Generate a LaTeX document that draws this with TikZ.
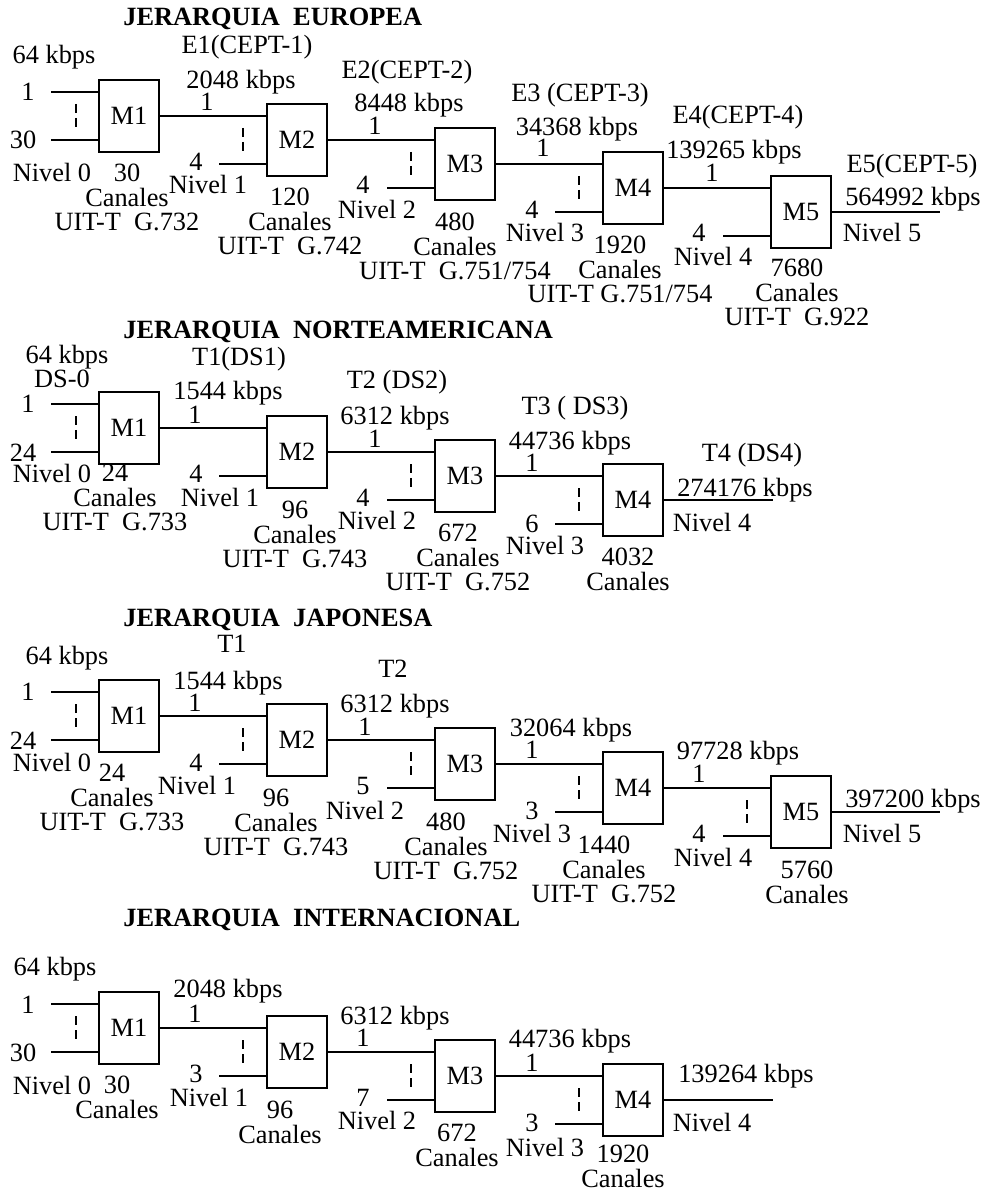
\documentclass[tikz,border=0pt]{standalone}
\usepackage{fontspec}
\setmainfont{Liberation Serif}

\def\txtfont{\fontsize{15pt}{13.9pt}\selectfont}

\begin{document}
\begin{tikzpicture}[x=0.02cm, y=-0.02cm, font=\txtfont,
	mux/.style={draw, line width=1.5pt, minimum width=1.2cm, minimum height=1.44cm, inner sep=0pt},
	wire/.style={line width=1.5pt},
	gap/.style={line width=0.6pt, dash pattern=on 0.18cm off 0.1cm},
	lbl/.style={anchor=base, inner sep=0pt},
	blk/.style={anchor=north, align=center, inner sep=0pt},
	title/.style={anchor=base west, inner sep=0pt, font=\txtfont\bfseries}]

	\useasboundingbox (0,0) rectangle (987,1192);

	% ---------------- europea
	\node[title] (e-tit) at (123,26) {JERARQUIA\ \ EUROPEA};

	\node[mux] (e1) at (129,116) {M1};
	\node[mux] (e2) at (297,140) {M2};
	\node[mux] (e3) at (465,164) {M3};
	\node[mux] (e4) at (633,188) {M4};
	\node[mux] (e5) at (801,212) {M5};

	\coordinate (e1a) at (51,92);
	\coordinate (e1b) at (51,140);
	\coordinate (e2b) at (219,164);
	\coordinate (e3b) at (387,188);
	\coordinate (e4b) at (555,212);
	\coordinate (e5b) at (723,236);
	\coordinate (e-out) at (940,212);

	\draw[wire] (e1a) -- (e1a -| e1.west);
	\draw[wire] (e1b) -- (e1b -| e1.west);
	\draw[wire] (e2b) -- (e2b -| e2.west);
	\draw[wire] (e3b) -- (e3b -| e3.west);
	\draw[wire] (e4b) -- (e4b -| e4.west);
	\draw[wire] (e5b) -- (e5b -| e5.west);
	\draw[wire] (e1) -- (e1 -| e2.west);
	\draw[wire] (e2) -- (e2 -| e3.west);
	\draw[wire] (e3) -- (e3 -| e4.west);
	\draw[wire] (e4) -- (e4 -| e5.west);
	\draw[wire] (e5) -- (e-out);

	\draw[gap] (76,104) -- (76,127);
	\draw[gap] (243,128) -- (243,151);
	\draw[gap] (411,152) -- (411,175);
	\draw[gap] (579,176) -- (579,199);

	\node[lbl] (e-r0) at (54,64) {64 kbps};
	\node[lbl] (e-c1a) at (28,101) {1};
	\node[lbl] (e-c1b) at (23,149) {30};
	\node[lbl] (e-n0) at (52,182) {Nivel 0};
	\node[blk] (e-ch1) at (127,164) {30\\Canales\\UIT-T~~G.732};

	\node[lbl] (e-t1) at (247,54) {E1(CEPT-1)};
	\node[lbl] (e-r1) at (241,89) {2048 kbps};
	\node[lbl] (e-k1) at (207,111) {1};
	\node[lbl] (e-m1) at (196,171) {4};
	\node[lbl] (e-n1) at (208,194) {Nivel 1};
	\node[blk] (e-ch2) at (290,188) {120\\Canales\\UIT-T~~G.742};

	\node[lbl] (e-t2) at (407,79) {E2(CEPT-2)};
	\node[lbl] (e-r2) at (409,112) {8448 kbps};
	\node[lbl] (e-k2) at (375,135) {1};
	\node[lbl] (e-m2) at (363,194) {4};
	\node[lbl] (e-n2) at (377,219) {Nivel 2};
	\node[blk] (e-ch3) at (455,213) {480\\Canales\\UIT-T~~G.751/754};

	\node[lbl] (e-t3) at (580,102) {E3 (CEPT-3)};
	\node[lbl] (e-r3) at (577,136) {34368 kbps};
	\node[lbl] (e-k3) at (543,157) {1};
	\node[lbl] (e-m3) at (532,219) {4};
	\node[lbl] (e-n3) at (545,242) {Nivel 3};
	\node[blk] (e-ch4) at (620,236) {1920\\Canales\\UIT-T G.751/754};

	\node[lbl] (e-t4) at (738,124) {E4(CEPT-4)};
	\node[lbl] (e-r4) at (734,159) {139265 kbps};
	\node[lbl] (e-k4) at (712,182) {1};
	\node[lbl] (e-m4) at (699,242) {4};
	\node[lbl] (e-n4) at (713,266) {Nivel 4};
	\node[blk] (e-ch5) at (797,259) {7680\\Canales\\UIT-T~~G.922};

	\node[lbl] (e-t5) at (912,173) {E5(CEPT-5)};
	\node[lbl] (e-r5) at (913,206) {564992 kbps};
	\node[lbl] (e-n5) at (882,242) {Nivel 5};

	% ---------------- norteamericana
	\node[title] (n-tit) at (123,339) {JERARQUIA\ \ NORTEAMERICANA};

	\node[mux] (n1) at (129,428) {M1};
	\node[mux] (n2) at (297,452) {M2};
	\node[mux] (n3) at (465,476) {M3};
	\node[mux] (n4) at (633,500) {M4};

	\coordinate (n1a) at (51,404);
	\coordinate (n1b) at (51,452);
	\coordinate (n2b) at (219,476);
	\coordinate (n3b) at (387,500);
	\coordinate (n4b) at (555,524);
	\coordinate (n-out) at (773,500);

	\draw[wire] (n1a) -- (n1a -| n1.west);
	\draw[wire] (n1b) -- (n1b -| n1.west);
	\draw[wire] (n2b) -- (n2b -| n2.west);
	\draw[wire] (n3b) -- (n3b -| n3.west);
	\draw[wire] (n4b) -- (n4b -| n4.west);
	\draw[wire] (n1) -- (n1 -| n2.west);
	\draw[wire] (n2) -- (n2 -| n3.west);
	\draw[wire] (n3) -- (n3 -| n4.west);
	\draw[wire] (n4) -- (n-out);

	\draw[gap] (76,416) -- (76,439);
	\draw[gap] (411,464) -- (411,487);
	\draw[gap] (579,488) -- (579,511);

	\node[lbl] (n-r0) at (67,364) {64 kbps};
	\node[lbl] (n-ds0) at (62,387) {DS-0};
	\node[lbl] (n-c1a) at (28,412) {1};
	\node[lbl] (n-c1b) at (23,461) {24};
	\node[lbl] (n-n0) at (52,482) {Nivel 0};
	\node[blk] (n-ch1) at (115,464) {24\\Canales\\UIT-T~~G.733};

	\node[lbl] (n-t1) at (239,366) {T1(DS1)};
	\node[lbl] (n-r1) at (228,399) {1544 kbps};
	\node[lbl] (n-k1) at (195,423) {1};
	\node[lbl] (n-m1) at (196,482) {4};
	\node[lbl] (n-n1) at (220,506) {Nivel 1};
	\node[blk] (n-ch2) at (295,501) {96\\Canales\\UIT-T~~G.743};

	\node[lbl] (n-t2) at (397,389) {T2 (DS2)};
	\node[lbl] (n-r2) at (395,424) {6312 kbps};
	\node[lbl] (n-k2) at (375,447) {1};
	\node[lbl] (n-m2) at (363,506) {4};
	\node[lbl] (n-n2) at (377,529) {Nivel 2};
	\node[blk] (n-ch3) at (458,524) {672\\Canales\\UIT-T~~G.752};

	\node[lbl] (n-t3) at (575,414) {T3 ( DS3)};
	\node[lbl] (n-r3) at (570,449) {44736 kbps};
	\node[lbl] (n-k3) at (532,471) {1};
	\node[lbl] (n-m3) at (532,532) {6};
	\node[lbl] (n-n3) at (545,554) {Nivel 3};
	\node[blk] (n-ch4) at (628,548) {4032\\Canales};

	\node[lbl] (n-t4) at (752,461) {T4 (DS4)};
	\node[lbl] (n-r4) at (745,496) {274176 kbps};
	\node[lbl] (n-n4) at (712,531) {Nivel 4};

	% ---------------- japonesa
	\node[title] (j-tit) at (123,626) {JERARQUIA\ \ JAPONESA};

	\node[mux] (j1) at (129,716) {M1};
	\node[mux] (j2) at (297,740) {M2};
	\node[mux] (j3) at (465,764) {M3};
	\node[mux] (j4) at (633,788) {M4};
	\node[mux] (j5) at (801,812) {M5};

	\coordinate (j1a) at (51,692);
	\coordinate (j1b) at (51,740);
	\coordinate (j2b) at (219,764);
	\coordinate (j3b) at (387,788);
	\coordinate (j4b) at (555,812);
	\coordinate (j5b) at (723,836);
	\coordinate (j-out) at (940,812);

	\draw[wire] (j1a) -- (j1a -| j1.west);
	\draw[wire] (j1b) -- (j1b -| j1.west);
	\draw[wire] (j2b) -- (j2b -| j2.west);
	\draw[wire] (j3b) -- (j3b -| j3.west);
	\draw[wire] (j4b) -- (j4b -| j4.west);
	\draw[wire] (j5b) -- (j5b -| j5.west);
	\draw[wire] (j1) -- (j1 -| j2.west);
	\draw[wire] (j2) -- (j2 -| j3.west);
	\draw[wire] (j3) -- (j3 -| j4.west);
	\draw[wire] (j4) -- (j4 -| j5.west);
	\draw[wire] (j5) -- (j-out);

	\draw[gap] (76,704) -- (76,727);
	\draw[gap] (243,728) -- (243,751);
	\draw[gap] (411,752) -- (411,775);
	\draw[gap] (579,776) -- (579,799);
	\draw[gap] (747,800) -- (747,823);

	\node[lbl] (j-r0) at (67,664) {64 kbps};
	\node[lbl] (j-c1a) at (28,700) {1};
	\node[lbl] (j-c1b) at (23,749) {24};
	\node[lbl] (j-n0) at (52,771) {Nivel 0};
	\node[blk] (j-ch1) at (112,764) {24\\Canales\\UIT-T~~G.733};

	\node[lbl] (j-t1) at (232,652) {T1};
	\node[lbl] (j-r1) at (228,689) {1544 kbps};
	\node[lbl] (j-k1) at (195,711) {1};
	\node[lbl] (j-m1) at (196,771) {4};
	\node[lbl] (j-n1) at (197,794) {Nivel 1};
	\node[blk] (j-ch2) at (276,789) {96\\Canales\\UIT-T~~G.743};

	\node[lbl] (j-t2) at (393,677) {T2};
	\node[lbl] (j-r2) at (395,712) {6312 kbps};
	\node[lbl] (j-k2) at (365,735) {1};
	\node[lbl] (j-m2) at (363,794) {5};
	\node[lbl] (j-n2) at (365,819) {Nivel 2};
	\node[blk] (j-ch3) at (446,813) {480\\Canales\\UIT-T~~G.752};

	\node[lbl] (j-r3) at (571,736) {32064 kbps};
	\node[lbl] (j-k3) at (532,758) {1};
	\node[lbl] (j-m3) at (532,819) {3};
	\node[lbl] (j-n3) at (532,842) {Nivel 3};
	\node[blk] (j-ch4) at (604,836) {1440\\Canales\\UIT-T~~G.752};

	\node[lbl] (j-r4) at (738,759) {97728 kbps};
	\node[lbl] (j-k4) at (699,782) {1};
	\node[lbl] (j-m4) at (699,842) {4};
	\node[lbl] (j-n4) at (713,866) {Nivel 4};
	\node[blk] (j-ch5) at (807,861) {5760\\Canales};

	\node[lbl] (j-r5) at (913,807) {397200 kbps};
	\node[lbl] (j-n5) at (882,842) {Nivel 5};

	% ---------------- internacional
	\node[title] (i-tit) at (123,926) {JERARQUIA\ \ INTERNACIONAL};

	\node[mux] (i1) at (129,1028) {M1};
	\node[mux] (i2) at (297,1052) {M2};
	\node[mux] (i3) at (465,1076) {M3};
	\node[mux] (i4) at (633,1100) {M4};

	\coordinate (i1a) at (51,1004);
	\coordinate (i1b) at (51,1052);
	\coordinate (i2b) at (219,1076);
	\coordinate (i3b) at (387,1100);
	\coordinate (i4b) at (555,1124);
	\coordinate (i-out) at (773,1100);

	\draw[wire] (i1a) -- (i1a -| i1.west);
	\draw[wire] (i1b) -- (i1b -| i1.west);
	\draw[wire] (i2b) -- (i2b -| i2.west);
	\draw[wire] (i3b) -- (i3b -| i3.west);
	\draw[wire] (i4b) -- (i4b -| i4.west);
	\draw[wire] (i1) -- (i1 -| i2.west);
	\draw[wire] (i2) -- (i2 -| i3.west);
	\draw[wire] (i3) -- (i3 -| i4.west);
	\draw[wire] (i4) -- (i-out);

	\draw[gap] (76,1016) -- (76,1039);
	\draw[gap] (243,1040) -- (243,1063);
	\draw[gap] (411,1064) -- (411,1087);
	\draw[gap] (579,1088) -- (579,1111);

	\node[lbl] (i-r0) at (55,975) {64 kbps};
	\node[lbl] (i-c1a) at (28,1013) {1};
	\node[lbl] (i-c1b) at (23,1061) {30};
	\node[lbl] (i-n0) at (52,1094) {Nivel 0};
	\node[blk] (i-ch1) at (117,1076) {30\\Canales};

	\node[lbl] (i-r1) at (228,997) {2048 kbps};
	\node[lbl] (i-k1) at (195,1022) {1};
	\node[lbl] (i-m1) at (196,1082) {3};
	\node[lbl] (i-n1) at (209,1106) {Nivel 1};
	\node[blk] (i-ch2) at (280,1101) {96\\Canales};

	\node[lbl] (i-r2) at (395,1024) {6312 kbps};
	\node[lbl] (i-k2) at (363,1046) {1};
	\node[lbl] (i-m2) at (363,1106) {7};
	\node[lbl] (i-n2) at (377,1129) {Nivel 2};
	\node[blk] (i-ch3) at (457,1124) {672\\Canales};

	\node[lbl] (i-r3) at (570,1047) {44736 kbps};
	\node[lbl] (i-k3) at (532,1071) {1};
	\node[lbl] (i-m3) at (532,1131) {3};
	\node[lbl] (i-n3) at (545,1156) {Nivel 3};
	\node[blk] (i-ch4) at (623,1145) {1920\\Canales};

	\node[lbl] (i-r4) at (746,1082) {139264 kbps};
	\node[lbl] (i-n4) at (712,1131) {Nivel 4};

\end{tikzpicture}
\end{document}
